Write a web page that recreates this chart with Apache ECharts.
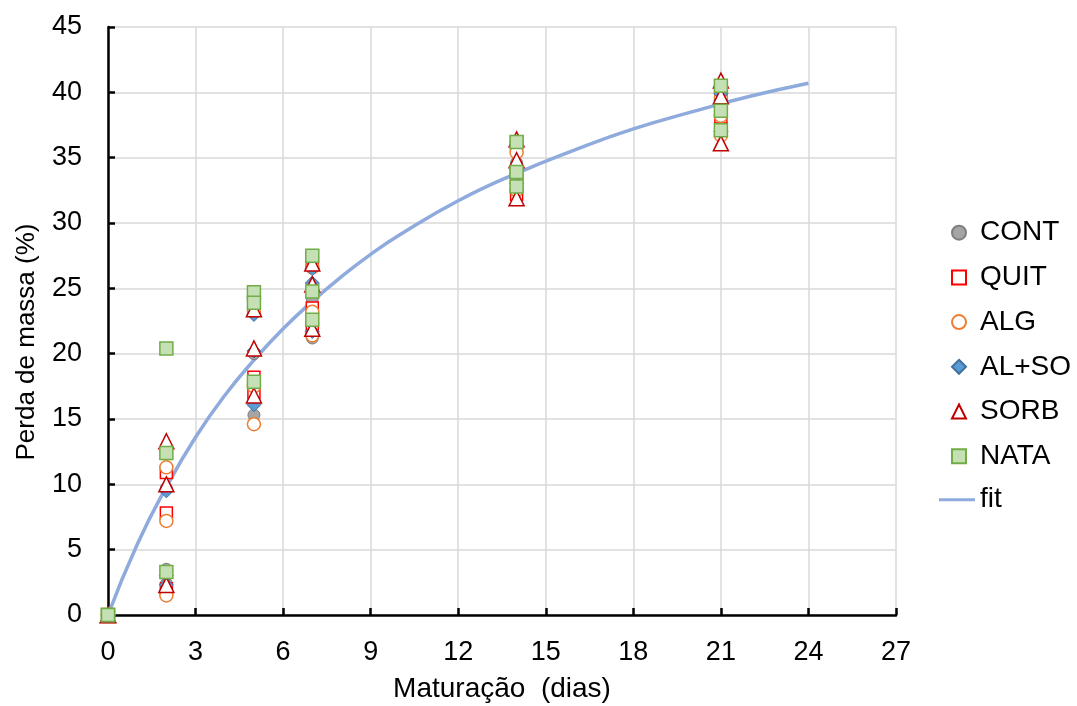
<!DOCTYPE html>
<html>
<head>
<meta charset="utf-8">
<script src="https://cdn.jsdelivr.net/npm/echarts@6/dist/echarts.min.js"></script>
<style>html,body{margin:0;padding:0;background:#fff;}#c{width:1077px;height:706px;}</style>
</head>
<body>
<div id="c"></div>
<script>
const days = [0, 2, 5, 7, 14, 21];
const CONT  = [[0,0,0],[9.7,3.5,2.4],[23.3,20.0,15.3],[26.7,24.2,21.2],[36.0,34.6,33.0],[40.0,39.3,37.5]];
const QUIT  = [[0,0,0],[10.9,7.8,2.0],[23.4,18.2,17.0],[26.9,23.5,21.9],[36.2,33.5,32.2],[40.2,37.9,37.2]];
const ALG   = [[0,0,0],[11.3,7.2,1.5],[23.2,17.5,14.6],[26.6,23.2,21.4],[35.4,33.8,32.5],[39.6,38.2,36.7]];
const ALSO  = [[0,0,0],[9.5,3.0,2.3],[23.0,20.2,16.1],[26.5,25.4,21.7],[36.2,34.1,33.0],[39.9,39.4,37.0]];
const SORB  = [[0,0,0],[13.3,10.0,2.3],[23.4,20.4,16.8],[26.9,25.3,21.9],[36.4,34.8,31.9],[40.9,39.7,36.1]];
const NATA  = [[0,0,0],[20.4,12.4,3.3],[24.7,23.9,17.85],[27.5,24.75,22.6],[36.2,33.9,32.8],[40.5,38.6,37.1]];
const fitT = [0,1,2,3,4,5,6,7,8,9,10,12,14,16,18,20,22,24];
const fitY = [0,5.4,9.8,13.6,16.8,19.5,21.9,24.0,25.9,27.6,29.1,31.7,33.8,35.6,37.2,38.5,39.7,40.7];

function pts(arr){ const out=[]; arr.forEach((r,i)=>r.forEach(v=>out.push([days[i],v]))); return out; }
const font = 'Liberation Sans, Arial, sans-serif';
const chart = echarts.init(document.getElementById('c'));
function sc(name, data, symbol, size, fill, border, bw){
  return {name, type:'scatter', data:pts(data), symbol, symbolSize:size, z:3,
    itemStyle:{color:fill, borderColor:border, borderWidth:bw, opacity:1}};
}
const legText = {fontFamily:font, fontSize:28, color:'#000', lineHeight:30};
chart.setOption({
  animation:false,
  backgroundColor:'#fff',
  grid:{left:108, right:181, top:27, bottom:91, containLabel:false, outerBoundsMode:'none'},
  xAxis:{type:'value', min:0, max:27, interval:3,
    name:'Maturação  (dias)', nameLocation:'middle', nameGap:60,
    nameTextStyle:{fontFamily:font, fontSize:28, color:'#000'},
    axisLine:{lineStyle:{color:'#000', width:2.5}},
    axisTick:{show:true, inside:true, length:7, lineStyle:{color:'#000', width:2.5}},
    axisLabel:{fontFamily:font, fontSize:27, color:'#000', margin:24},
    splitLine:{show:true, lineStyle:{color:'#d9d9d9', width:1.5}}},
  yAxis:{type:'value', min:0, max:45, interval:5,
    name:'Perda de massa (%)', nameLocation:'middle', nameGap:68, nameRotate:90,
    nameTextStyle:{fontFamily:font, fontSize:26, color:'#000', padding:[0,42,0,0]},
    axisLine:{show:true, lineStyle:{color:'#000', width:2.5}},
    axisTick:{show:true, inside:true, length:7, lineStyle:{color:'#000', width:2.5}},
    axisLabel:{fontFamily:font, fontSize:27, color:'#000', margin:26},
    splitLine:{show:true, lineStyle:{color:'#d9d9d9', width:1.5}}},
  legend:[
    {orient:'vertical', left:946, top:212.7, itemGap:14.7, itemWidth:14, itemHeight:14,
      textStyle:Object.assign({padding:[0,0,0,9]}, legText),
      data:['CONT','QUIT','ALG','AL+SO','SORB','NATA']},
    {orient:'vertical', left:934, top:479.7, itemWidth:36, itemHeight:14,
      textStyle:Object.assign({padding:[0,0,0,0]}, legText),
      data:[{name:'fit', icon:'path://M0,6 L36,6 L36,9 L0,9 Z'}]}
  ],
  series:[
    {name:'fit', type:'line', data:fitT.map((t,i)=>[t,fitY[i]]), smooth:true, symbol:'none', z:2,
      lineStyle:{color:'#8faadc', width:3.5}, itemStyle:{color:'#8faadc'}},
    sc('CONT', CONT, 'circle', 12, '#a5a5a5', '#7f7f7f', 1),
    sc('QUIT', QUIT, 'rect', 12, '#ffffff', '#ff0000', 1.5),
    sc('ALG', ALG, 'circle', 13, '#ffffff', '#ed7d31', 1.5),
    sc('AL+SO', ALSO, 'diamond', 14, '#5b9bd5', '#41719c', 1),
    sc('SORB', SORB, 'triangle', 15, '#ffffff', '#c00000', 1.5),
    sc('NATA', NATA, 'rect', 13, '#c5e0b4', '#70ad47', 1.5)
  ]
});
</script>
</body>
</html>
